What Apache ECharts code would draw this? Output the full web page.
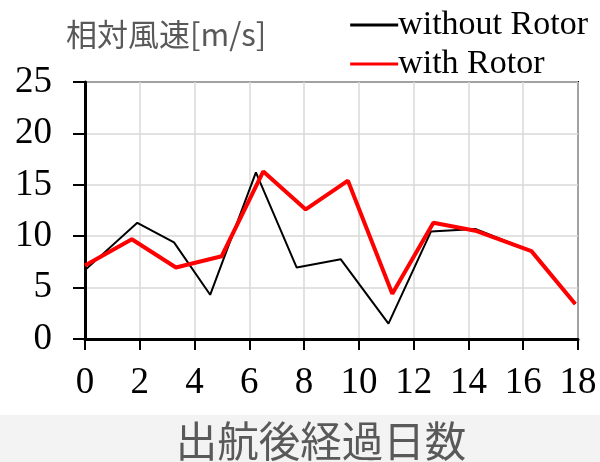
<!DOCTYPE html>
<html>
<head>
<meta charset="utf-8">
<script src="https://cdn.jsdelivr.net/npm/echarts@6/dist/echarts.min.js"></script>
<style>
html,body{margin:0;padding:0;background:#fff;}
#c{width:600px;height:462px;}
</style>
</head>
<body>
<div id="c"></div>
<script>
var xTicks = [0, 2, 4, 6, 8, 10, 12, 14, 16, 18];
var yTicks = [0, 5, 10, 15, 20, 25];
var withoutX = [0, 1.91, 3.25, 4.57, 6.24, 7.73, 9.34, 11.08, 12.63, 14.25, 16.3, 17.9];
var withoutY = [6.7, 11.3, 9.4, 4.3, 16.2, 6.95, 7.75, 1.5, 10.45, 10.7, 8.55, 3.4];
var withX = [0, 1.71, 3.32, 4.99, 6.51, 8.06, 9.6, 11.22, 12.72, 14.3, 16.3, 17.9];
var withY = [7.15, 9.7, 6.95, 8.05, 16.3, 12.6, 15.4, 4.4, 11.3, 10.5, 8.55, 3.4];
var seriesNames = ['without Rotor', 'with Rotor'];
var yTitle = '相対風速[m/s]';
var xTitle = '出航後経過日数';

function pairs(xs, ys) { return xs.map(function (x, i) { return [x, ys[i]]; }); }

var chart = echarts.init(document.getElementById('c'), null, {renderer: 'canvas'});
var serif = '"Liberation Serif", "Times New Roman", serif';
var cjk = '"Noto Sans CJK JP", "Noto Sans", sans-serif';
chart.setOption({
  animation: false,
  backgroundColor: '#fff',
  graphic: [
    {type: 'rect', left: 0, top: 415, shape: {width: 600, height: 47}, style: {fill: '#f3f3f3'}, z: -10},
    {type: 'text', x: 321, y: 441, style: {text: xTitle, font: '41.5px ' + cjk, fill: '#595959', textAlign: 'center', textVerticalAlign: 'middle'}},
    {type: 'text', x: 66, y: 34, style: {text: yTitle, font: '31px ' + cjk, fill: '#595959', textAlign: 'left', textVerticalAlign: 'middle'}}
  ],
  legend: {
    orient: 'vertical', right: 7, top: 3, itemGap: 5,
    itemWidth: 48, itemHeight: 3,
    textStyle: {fontFamily: serif, fontSize: 34, color: '#000', padding: [0, 0, 0, -5]},
    data: [
      {name: seriesNames[0], icon: 'rect', itemStyle: {color: '#000'}},
      {name: seriesNames[1], icon: 'rect', itemStyle: {color: '#ff0000'}}
    ]
  },
  grid: {left: 85, right: 22, top: 82, bottom: 123, show: true, borderColor: '#000', borderWidth: 2, backgroundColor: 'transparent'},
  xAxis: {
    type: 'value', min: 0, max: 18, interval: 2,
    axisLine: {show: true, onZero: false, lineStyle: {color: '#000', width: 3}},
    axisTick: {show: true, inside: false, length: 11, lineStyle: {color: '#000', width: 2}},
    axisLabel: {fontFamily: serif, fontSize: 37, color: '#000', margin: 26},
    splitLine: {show: true, lineStyle: {color: '#d9d9d9', width: 1.5}}
  },
  yAxis: {
    type: 'value', min: 0, max: 25, interval: 5,
    axisLine: {show: true, lineStyle: {color: '#000', width: 3}},
    axisTick: {show: true, inside: false, length: 12, lineStyle: {color: '#000', width: 2}},
    axisLabel: {fontFamily: serif, fontSize: 37, color: '#000', margin: 33},
    splitLine: {show: true, lineStyle: {color: '#d9d9d9', width: 1.5}}
  },
  series: [
    {name: seriesNames[0], type: 'line', data: pairs(withoutX, withoutY), showSymbol: false, symbol: 'none',
     lineStyle: {color: '#000', width: 2}, itemStyle: {color: '#000'}, z: 3},
    {name: seriesNames[1], type: 'line', data: pairs(withX, withY), showSymbol: false, symbol: 'none',
     lineStyle: {color: '#ff0000', width: 4}, itemStyle: {color: '#ff0000'}, z: 4}
  ]
});
</script>
</body>
</html>
